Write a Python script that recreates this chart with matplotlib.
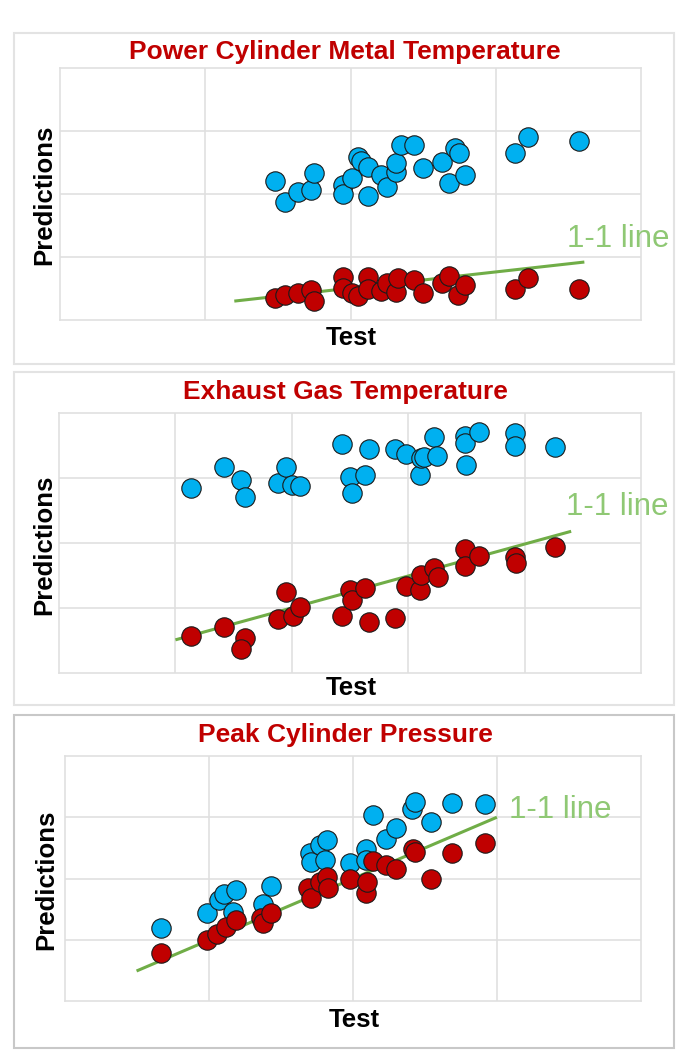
import numpy as np
import matplotlib
matplotlib.use("Agg")
import matplotlib.pyplot as plt
from matplotlib.patches import Rectangle

plt.rcParams['font.family'] = ['Liberation Sans', 'DejaVu Sans']

W, H = 680, 1064

# ---- data (arbitrary units, axes 0..4 / 0..5) ----
titles = ["Power Cylinder Metal Temperature", "Exhaust Gas Temperature", "Peak Cylinder Pressure"]

# panel 1
p1_blue_x = [1.48, 1.55, 1.64, 1.73, 1.75, 1.95, 1.95, 2.01, 2.05, 2.07, 2.12, 2.12, 2.21, 2.25,
             2.31, 2.31, 2.35, 2.44, 2.50, 2.63, 2.68, 2.72, 2.75, 2.79, 3.13, 3.22, 3.57]
p1_blue_y = [2.21, 1.87, 2.03, 2.06, 2.33, 2.14, 2.00, 2.25, 2.59, 2.52, 2.43, 1.97, 2.30, 2.11,
             2.35, 2.49, 2.77, 2.78, 2.41, 2.51, 2.18, 2.73, 2.65, 2.30, 2.65, 2.90, 2.84]
p1_red_x = [1.48, 1.55, 1.64, 1.73, 1.75, 1.95, 1.95, 2.01, 2.05, 2.12, 2.12, 2.21, 2.25, 2.31,
            2.33, 2.44, 2.50, 2.63, 2.68, 2.74, 2.79, 3.13, 3.22, 3.57]
p1_red_y = [0.35, 0.40, 0.43, 0.48, 0.30, 0.68, 0.51, 0.43, 0.38, 0.68, 0.49, 0.46, 0.59, 0.45,
            0.67, 0.63, 0.43, 0.59, 0.70, 0.40, 0.56, 0.49, 0.67, 0.49]
p1_line = ([1.20, 3.61], [0.30, 0.92])

# panel 2
p2_blue_x = [1.13, 1.42, 1.56, 1.60, 1.88, 1.95, 2.00, 2.07, 2.43, 2.50, 2.52, 2.63, 2.66, 2.89,
             2.98, 3.10, 3.11, 3.14, 3.22, 3.25, 3.49, 3.49, 3.50, 3.61, 3.92, 3.92, 4.26]
p2_blue_y = [2.85, 3.17, 2.97, 2.71, 2.93, 3.17, 2.89, 2.87, 3.52, 3.02, 2.77, 3.05, 3.45, 3.45,
             3.37, 3.05, 3.31, 3.33, 3.63, 3.34, 3.64, 3.54, 3.20, 3.70, 3.69, 3.49, 3.48]
p2_red_x = [1.13, 1.42, 1.60, 1.56, 1.88, 1.95, 2.01, 2.07, 2.43, 2.50, 2.52, 2.63, 2.66, 2.89,
            2.98, 3.10, 3.11, 3.22, 3.26, 3.49, 3.49, 3.61, 3.92, 3.93, 4.26]
p2_red_y = [0.57, 0.71, 0.54, 0.37, 0.83, 1.25, 0.87, 1.02, 0.88, 1.28, 1.12, 1.31, 0.78, 0.85,
            1.34, 1.28, 1.51, 1.61, 1.48, 1.91, 1.65, 1.80, 1.79, 1.69, 1.94]
p2_line = ([1.00, 4.40], [0.51, 2.18])

# panel 3
p3_blue_x = [0.67, 0.99, 1.07, 1.11, 1.19, 1.17, 1.38, 1.43, 1.70, 1.71, 1.77, 1.82, 1.81, 1.98,
             2.09, 2.09, 2.14, 2.23, 2.30, 2.41, 2.43, 2.54, 2.69, 2.92]
p3_blue_y = [1.20, 1.43, 1.65, 1.74, 1.82, 1.45, 1.58, 1.88, 2.41, 2.27, 2.54, 2.63, 2.30, 2.25,
             2.48, 2.30, 3.03, 2.65, 2.82, 3.13, 3.25, 2.93, 3.24, 3.21]
p3_red_x = [0.67, 0.99, 1.06, 1.12, 1.19, 1.36, 1.38, 1.43, 1.69, 1.71, 1.77, 1.82, 1.83, 1.98,
            2.09, 2.10, 2.14, 2.23, 2.30, 2.42, 2.43, 2.54, 2.69, 2.92]
p3_red_y = [0.78, 1.00, 1.09, 1.21, 1.32, 1.35, 1.27, 1.43, 1.85, 1.68, 1.95, 2.03, 1.85, 2.00,
            1.76, 1.94, 2.29, 2.22, 2.16, 2.48, 2.44, 2.00, 2.41, 2.58]
p3_line = ([0.50, 3.00], [0.49, 3.00])

xmax = [4, 5, 4]

# ---- layout in pixels ----
boxes = [(14, 33, 674, 364), (14, 372, 674, 705), (14, 715, 674, 1048)]
box_colors = ['#e3e3e3', '#e3e3e3', '#c8c8c8']
axes_px = [(60, 68, 641, 320), (59, 413, 641, 673), (64.5, 756, 641, 1001)]
title_y = [52, 392, 735]
xlabel_pos = [(351, 338), (351, 688), (354, 1020)]
ylabel_pos = [(44, 195), (44, 545), (46, 880)]
note_pos = [(567, 239), (566, 507), (509, 810)]

blue = '#00b0f0'
red = '#c00000'
green = '#70ad47'
light_green = '#8fc874'


def fx(px):
    return px / W


def fy(py):
    return 1 - py / H


fig = plt.figure(figsize=(W / 100, H / 100), dpi=100)

data = [
    (p1_blue_x, p1_blue_y, p1_red_x, p1_red_y, p1_line),
    (p2_blue_x, p2_blue_y, p2_red_x, p2_red_y, p2_line),
    (p3_blue_x, p3_blue_y, p3_red_x, p3_red_y, p3_line),
]

for i in range(3):
    bx0, by0, bx1, by1 = boxes[i]
    fig.patches.append(Rectangle((fx(bx0), fy(by1)), fx(bx1) - fx(bx0), fy(by0) - fy(by1),
                                 transform=fig.transFigure, fill=False,
                                 edgecolor=box_colors[i], linewidth=1.5))

    l, t, r, b = axes_px[i]
    ax = fig.add_axes([fx(l), fy(b), fx(r) - fx(l), fy(t) - fy(b)])
    bxs, bys, rxs, rys, line = data[i]

    ax.plot(line[0], line[1], color=green, linewidth=2.2, zorder=2, solid_capstyle='butt')
    ax.scatter(bxs, bys, s=195, color=blue, edgecolor='#1a1a1a', linewidth=0.8, zorder=3)
    ax.scatter(rxs, rys, s=195, color=red, edgecolor='#1a1a1a', linewidth=0.8, zorder=4)

    ax.set_xlim(0, xmax[i])
    ax.set_ylim(0, 4)
    ax.set_xticks(range(1, xmax[i]))
    ax.set_yticks([1, 2, 3])
    ax.set_xticklabels([])
    ax.set_yticklabels([])
    ax.tick_params(length=0)
    ax.grid(True, color='#e0e0e0', linewidth=1.2)
    ax.set_axisbelow(True)
    for sp in ax.spines.values():
        sp.set_color('#e0e0e0')
        sp.set_linewidth(1.2)

    fig.text(fx(345), fy(title_y[i]), titles[i], color=red, fontsize=19, fontweight='bold',
             ha='center', va='center')
    fig.text(fx(xlabel_pos[i][0]), fy(xlabel_pos[i][1]), 'Test', fontsize=18.5,
             fontweight='bold', ha='center', va='center')
    fig.text(fx(ylabel_pos[i][0]), fy(ylabel_pos[i][1]), 'Predictions', fontsize=18.5,
             fontweight='bold', ha='center', va='center', rotation=90)
    fig.text(fx(note_pos[i][0]), fy(note_pos[i][1]), '1-1 line', color=light_green,
             fontsize=22.5, ha='left', va='center')

fig.savefig('out.png', dpi=100)
